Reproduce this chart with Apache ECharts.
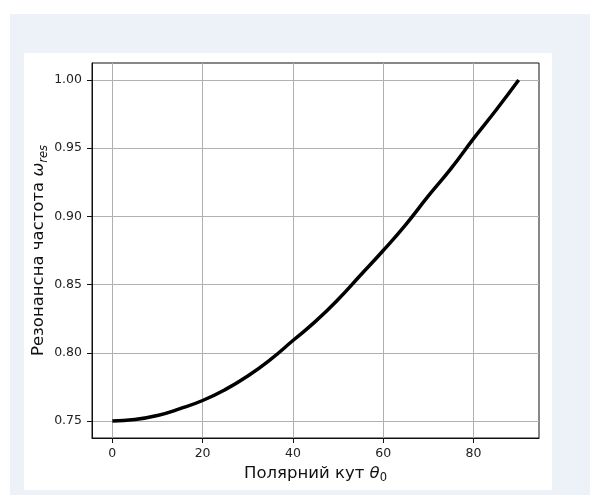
<!DOCTYPE html>
<html>
<head>
<meta charset="utf-8">
<script src="https://cdn.jsdelivr.net/npm/echarts@6/dist/echarts.min.js"></script>
<style>
html, body { margin: 0; padding: 0; background: #fff; width: 590px; height: 495px; overflow: hidden; }
.bg { position: absolute; left: 10px; top: 14px; width: 580px; height: 481px; background: #edf2f9; }
.panel { position: absolute; left: 24px; top: 53px; width: 528px; height: 437px; background: #fff; }
</style>
</head>
<body>
<div class="bg"></div>
<div class="panel" id="chart"></div>
<script>
// polar angle (deg) and resonance frequency
const thetaDeg = [0, 5, 10, 15, 20, 25, 30, 35, 40, 45, 50, 55, 60, 65, 70, 75, 80, 85, 90]
const omegaRes = [0.750, 0.751, 0.754, 0.759, 0.765, 0.773, 0.783, 0.795, 0.809, 0.823,
                  0.839, 0.857, 0.875, 0.894, 0.915, 0.935, 0.957, 0.978, 1.000]
const xTicks = [0, 20, 40, 60, 80]
const yTicks = [0.75, 0.80, 0.85, 0.90, 0.95, 1.00]

const font = 'DejaVu Sans'
const chart = echarts.init(document.getElementById('chart'))

const nameRich = {
    n: { fontFamily: font, fontSize: 16.5, color: '#111', lineHeight: 22 },
    i: { fontFamily: font, fontSize: 16.5, fontStyle: 'italic', color: '#111', lineHeight: 22 },
    s: { fontFamily: font, fontSize: 11.5, color: '#111', lineHeight: 12, verticalAlign: 'bottom' },
    si: { fontFamily: font, fontSize: 11.5, fontStyle: 'italic', color: '#111', lineHeight: 12, verticalAlign: 'bottom' }
}

const option = {
    animation: false,
    grid: { // plot box
        left: 68, right: 13, top: 10, bottom: 52,
        outerBoundsMode: 'none',
        containLabel: false,
        show: true, borderColor: '#111', borderWidth: 1
    },
    xAxis: {
        type: 'value',
        min: -4.5,
        max: 94.5,
        name: '{n|Полярний кут }{i|θ}{s|0}',
        nameLocation: 'middle',
        nameGap: 24,
        nameTextStyle: { rich: nameRich },
        axisLine: { show: true, onZero: false, lineStyle: { color: '#111', width: 1 } },
        axisTick: { show: true, length: 5, customValues: xTicks, lineStyle: { color: '#111' } },
        axisLabel: { customValues: xTicks, margin: 9, fontFamily: font, fontSize: 12.5, color: '#222' },
        splitLine: { show: true, lineStyle: { color: '#b0b0b0', width: 1 } }
    },
    yAxis: {
        type: 'value',
        min: 0.7375,
        max: 1.0125,
        name: '{n|Резонансна частота }{i|ω}{si|res}',
        nameLocation: 'middle',
        nameRotate: 90,
        nameGap: 42,
        nameMoveOverlap: false,
        nameTextStyle: { rich: nameRich },
        axisLine: { show: true, onZero: false, lineStyle: { color: '#111', width: 1 } },
        axisTick: { show: true, length: 5, customValues: yTicks, lineStyle: { color: '#111' } },
        axisLabel: {
            customValues: yTicks, margin: 10, fontFamily: font, fontSize: 12.5, color: '#222',
            formatter: v => v.toFixed(2)
        },
        splitLine: { show: true, lineStyle: { color: '#b0b0b0', width: 1 } }
    },
    series: [{
        type: 'line',
        smooth: true,
        symbol: 'none',
        lineStyle: { color: '#000', width: 3.5 },
        data: thetaDeg.map((t, i) => [t, omegaRes[i]])
    }]
}
chart.setOption(option)
</script>
</body>
</html>
